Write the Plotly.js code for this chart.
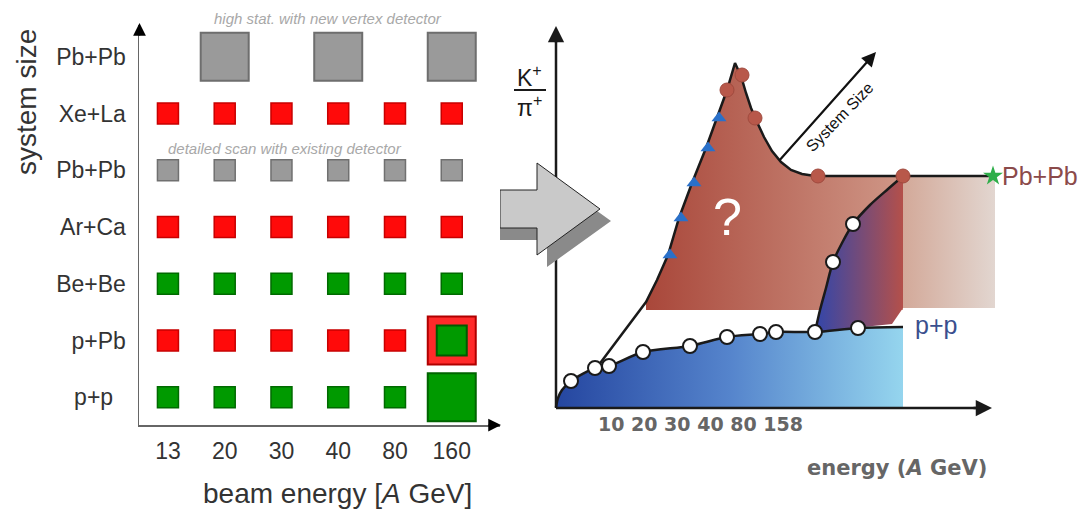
<!DOCTYPE html>
<html><head><meta charset="utf-8">
<script src="https://cdn.plot.ly/plotly-3.0.1.min.js"></script>
<style>html,body{margin:0;padding:0;background:#fff;}#chart{width:1085px;height:510px;}</style>
</head><body><div id="chart"></div>
<script>
// ---------- Left panel: NA61 programme grid ----------
const energies = ['13','20','30','40','80','160'];
const systems  = ['p+p','p+Pb','Be+Be','Ar+Ca','Pb+Pb','Xe+La','Pb+Pb'];
const greenEnergy = ['13','20','30','40','80','13','20','30','40','80','160'];
const greenRow    = [0,0,0,0,0,2,2,2,2,2,2];
const redEnergy = ['13','20','30','40','80','13','20','30','40','80','160','13','20','30','40','80','160'];
const redRow    = [1,1,1,1,1,3,3,3,3,3,3,5,5,5,5,5,5];
const scanEnergy = ['13','20','30','40','80','160'];
const scanRow    = [4,4,4,4,4,4];
const vertexEnergy = ['20','40','160'];
const vertexRow    = [6,6,6];
const highStatEnergy = ['160'];
const highStatPPRow  = [0];
const highStatPPbRow = [1];

// ---------- Right panel: schematic K+/pi+ vs energy (sketch units) ----------
const ppCurveX = [556, 558, 562, 571, 595, 609, 643, 690, 727, 760, 776, 815, 858, 903];
const ppCurveY = [407, 398, 390, 381, 368, 366, 352, 346, 337, 334, 332, 332, 328, 327];
const ppPointX = [571, 595, 609, 643, 690, 727, 760, 776, 815, 858];
const ppPointY = [381, 368, 366, 352, 346, 337, 334, 332, 332, 328];
const pbCurveX = [598, 622, 646, 657, 668, 679, 692, 706, 717, 727, 735, 741, 746, 751, 757, 764, 772, 781, 791, 802, 815, 903, 993];
const pbCurveY = [366, 334, 302, 280, 255, 218, 183, 148, 118, 90, 63, 76, 93, 108, 122, 137, 151, 162, 170, 174, 176, 176, 176];
const pbTriX = [670, 681, 694, 708, 719];
const pbTriY = [255, 218, 183, 148, 118];
const pbDotX = [742, 727, 755, 818, 903];
const pbDotY = [75, 90, 118, 176, 176];
const midCurveX = [815, 820, 826, 833, 842, 853, 870, 888, 903];
const midCurveY = [332, 310, 288, 262, 243, 224, 205, 189, 176];
const midPointX = [833, 853];
const midPointY = [262, 224];
const beigeX = [903, 995, 995, 903];
const beigeY = [176, 176, 308, 308];
const starX = [993];
const starY = [176];

const FONT = 'Liberation Sans, Arial, sans-serif';
const px = v => v / 1085;
const py = v => 1 - v / 510;

function sq(xs, ys, size, fill, line, lw) {
  return {type:'scatter', mode:'markers', x:xs, y:ys, xaxis:'x', yaxis:'y', cliponaxis:false,
    hoverinfo:'skip', marker:{symbol:'square', size:size, color:fill, line:{color:line, width:lw}}};
}

const redFillX = [], redFillY = [];
pbCurveX.forEach((x,i)=>{ if (x >= 646 && x <= 903) { redFillX.push(x); redFillY.push(pbCurveY[i]); } });
redFillX.push(903, 646); redFillY.push(310, 310);
const blueFillX = ppCurveX.concat([903, 556]);
const blueFillY = ppCurveY.concat([408, 408]);
const midFillX = midCurveX.concat([903, 892]);
const midFillY = midCurveY.concat([308, 324]);

function fillTrace(xs, ys, scale) {
  return {type:'scatter', mode:'lines', x:xs, y:ys, xaxis:'x2', yaxis:'y2', fill:'toself',
    line:{width:0, color:'rgba(0,0,0,0)'}, hoverinfo:'skip',
    fillgradient:{type:'horizontal', colorscale:scale}};
}
function lineTrace(xs, ys, shape) {
  return {type:'scatter', mode:'lines', x:xs, y:ys, xaxis:'x2', yaxis:'y2', hoverinfo:'skip',
    line:{color:'#1a1a1a', width:2.5, shape:shape || 'linear', smoothing:0.8}};
}
function ptTrace(xs, ys, sym, size, color, lc, lw) {
  return {type:'scatter', mode:'markers', x:xs, y:ys, xaxis:'x2', yaxis:'y2', hoverinfo:'skip', cliponaxis:false,
    marker:{symbol:sym, size:size, color:color, line:{color:lc, width:lw}}};
}

const traces = [
  sq(greenEnergy, greenRow, 21, '#009a00', '#006a00', 1.5),
  sq(redEnergy, redRow, 21, '#ff0a0a', '#c80000', 1.5),
  sq(scanEnergy, scanRow, 21, '#9a9a9a', '#707070', 1.5),
  sq(vertexEnergy, vertexRow, 48, '#9a9a9a', '#6e6e6e', 2),
  sq(highStatEnergy, highStatPPRow, 48, '#009a00', '#006400', 2),
  sq(highStatEnergy, highStatPPbRow, 48, '#ff2a2a', '#b00000', 2),
  sq(highStatEnergy, highStatPPbRow, 30, '#009a00', '#005a00', 2),

  fillTrace(blueFillX, blueFillY, [[0,'#2546a0'],[0.5,'#5584cc'],[1,'#95d5ee']]),
  fillTrace(redFillX, redFillY, [[0,'#a9473a'],[1,'#cf9787']]),
  fillTrace(beigeX, beigeY, [[0,'#d3a999'],[1,'#e2d6d0']]),
  fillTrace(midFillX, midFillY, [[0,'#3246aa'],[1,'#b4504a']]),
  lineTrace(ppCurveX, ppCurveY, 'spline'),
  lineTrace(pbCurveX, pbCurveY, 'linear'),
  lineTrace(midCurveX, midCurveY, 'spline'),
  ptTrace(ppPointX, ppPointY, 'circle', 14, '#ffffff', '#1a1a1a', 2),
  ptTrace(midPointX, midPointY, 'circle', 14, '#ffffff', '#1a1a1a', 2),
  ptTrace(pbDotX, pbDotY, 'circle', 14, '#b8584a', '#a04a3e', 1),
  ptTrace(pbTriX, pbTriY, 'triangle-up', 13, '#2a70c9', '#2a70c9', 0),
  ptTrace(starX, starY, 'star', 15, '#2fae4a', '#2fae4a', 0)
];

function txt(x, y, text, size, color, extra) {
  return Object.assign({xref:'paper', yref:'paper', x:px(x), y:py(y), text:text, showarrow:false,
    xanchor:'center', yanchor:'middle', font:{size:size, color:color, family:FONT}}, extra || {});
}
function txt2(x, y, text, size, color, extra) {
  return Object.assign({xref:'x2', yref:'y2', x:x, y:y, text:text, showarrow:false,
    xanchor:'center', yanchor:'middle', font:{size:size, color:color, family:FONT}}, extra || {});
}

const layout = {
  width:1085, height:510, margin:{l:0,r:0,t:0,b:0},
  paper_bgcolor:'#ffffff', plot_bgcolor:'rgba(0,0,0,0)', showlegend:false,
  font:{family:FONT, color:'#333'},
  xaxis:{domain:[px(139), px(500)], type:'category', categoryorder:'array', categoryarray:energies,
    range:[-0.51, 5.85], showline:true, linecolor:'#666', linewidth:1.5, showgrid:false, zeroline:false,
    ticks:'', tickfont:{size:23, color:'#333', family:FONT}, ticklabelstandoff:5, anchor:'y', fixedrange:true},
  yaxis:{domain:[py(425), py(25)], range:[-0.49, 6.56], tickvals:[0,1,2,3,4,5,6],
    ticktext:['p+p\u00a0\u00a0','p+Pb','Be+Be','Ar+Ca','Pb+Pb','Xe+La','Pb+Pb'],
    showline:true, linecolor:'#666', linewidth:1.5, showgrid:false, zeroline:false,
    ticks:'', tickfont:{size:23, color:'#333', family:FONT}, ticklabelstandoff:7, anchor:'x', fixedrange:true},
  xaxis2:{domain:[px(500), 1], range:[500, 1085], visible:false, anchor:'y2', fixedrange:true},
  yaxis2:{domain:[0, 1], range:[510, 0], visible:false, anchor:'x2', fixedrange:true},
  shapes:[
    {type:'line', xref:'x2', yref:'y2', x0:556, x1:556, y0:408, y1:40, line:{color:'#1a1a1a', width:2.5}},
    {type:'line', xref:'x2', yref:'y2', x0:556, x1:978, y0:408, y1:408, line:{color:'#1a1a1a', width:2.5}},
    {type:'line', xref:'x2', yref:'y2', x0:514, x1:546, y0:90, y1:90, line:{color:'#1a1a1a', width:2}},
    {type:'path', xref:'x2', yref:'y2', path:'M500,202 L547,202 L547,175 L611,221 L547,267 L547,240 L500,240 Z',
      fillcolor:'#8a8a8a', line:{width:0}},
    {type:'path', xref:'x2', yref:'y2', path:'M500,190 L537,190 L537,163 L600,209 L537,255 L537,228 L500,228 Z',
      fillcolor:'#c9c9c9', line:{color:'#222', width:1}}
  ],
  annotations:[
    {xref:'paper', yref:'paper', x:px(139.5), y:py(23), ax:0, ay:14, text:'', showarrow:true,
      arrowhead:2, arrowsize:1.7, arrowwidth:1.5, arrowcolor:'#000'},
    {xref:'paper', yref:'paper', x:px(501), y:py(425), ax:-14, ay:0, text:'', showarrow:true,
      arrowhead:2, arrowsize:1.7, arrowwidth:1.5, arrowcolor:'#000'},
    txt(27, 102, 'system size', 28, '#333', {textangle:-90}),
    txt(337, 493, 'beam energy [<i>A</i> GeV]', 28, '#333'),
    txt(328, 19, '<i>high stat. with new vertex detector</i>', 15, '#a8a8a8'),
    txt(285, 148, '<i>detailed scan with existing detector</i>', 15, '#a8a8a8'),

    {xref:'x2', yref:'y2', x:556, y:26, ax:556, ay:44, axref:'x2', ayref:'y2', text:'', showarrow:true,
      arrowhead:2, arrowsize:1.3, arrowwidth:2.5, arrowcolor:'#1a1a1a'},
    {xref:'x2', yref:'y2', x:992, y:408, ax:972, ay:408, axref:'x2', ayref:'y2', text:'', showarrow:true,
      arrowhead:2, arrowsize:1.3, arrowwidth:2.5, arrowcolor:'#1a1a1a'},
    {xref:'x2', yref:'y2', x:876, y:52, ax:778, ay:162, axref:'x2', ayref:'y2', text:'', showarrow:true,
      arrowhead:2, arrowsize:1.3, arrowwidth:2.2, arrowcolor:'#111'},
    txt2(839, 117, 'System Size', 16, '#111', {textangle:-46}),
    txt2(529, 76, 'K<sup>+</sup>', 23, '#1a1a1a'),
    txt2(529, 106, 'π<sup>+</sup>', 23, '#1a1a1a'),
    txt2(727, 217, '?', 52, '#ffffff'),
    txt2(1000, 176, 'Pb+Pb', 25, '#8b4a4a', {xanchor:'left'}),
    txt2(913, 325, 'p+p', 25, '#3a4f8e', {xanchor:'left'}),
    txt2(700, 424, '<b>10 20 30 40 80 158</b>', 19, '#666', {font:{size:19, color:'#666', family:'DejaVu Sans, sans-serif'}}),
    txt2(897, 468, '<b>energy (<i>A</i> GeV)</b>', 21, '#666', {font:{size:21, color:'#666', family:'DejaVu Sans, sans-serif'}})
  ]
};

Plotly.newPlot('chart', traces, layout, {displayModeBar:false, staticPlot:true});
</script></body></html>
